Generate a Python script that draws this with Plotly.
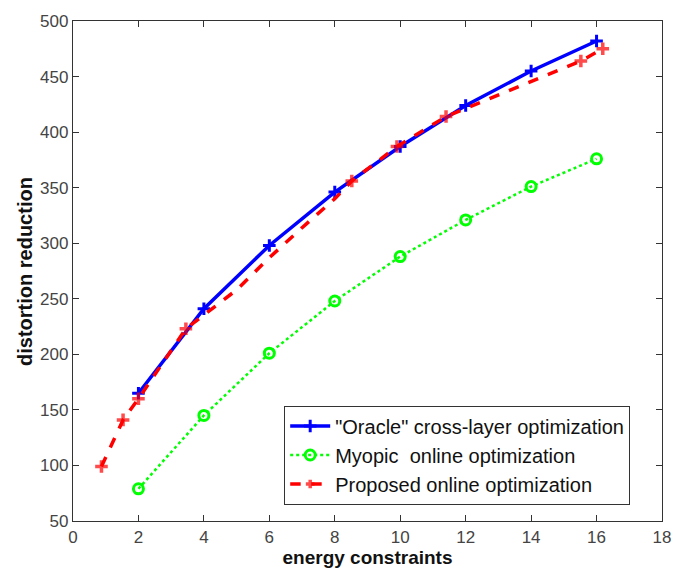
import plotly.graph_objects as go

# Oracle cross-layer optimization
oracle_x = [2, 4, 6, 8, 10, 12, 14, 16]
oracle_y = [165, 241, 298, 346, 387, 424, 455, 482]

# Myopic online optimization
myopic_x = [2, 4, 6, 8, 10, 12, 14, 16]
myopic_y = [79, 145, 201, 248, 288, 321, 351, 376]

# Proposed online optimization (marker shown only where visible in reference)
proposed_x = [0.87, 1.53, 2.0, 3.45, 5.0, 6.0, 7.0, 8.0, 8.52, 9.9, 11.4, 15.52, 16.19]
proposed_y = [99, 141, 160, 223, 258, 287, 314, 340, 356, 387, 414, 464, 475]
proposed_marker_visible = [1, 1, 1, 1, 0, 0, 0, 0, 1, 1, 1, 1, 1]

x_ticks = [0, 2, 4, 6, 8, 10, 12, 14, 16, 18]
y_ticks = [50, 100, 150, 200, 250, 300, 350, 400, 450, 500]

fig = go.Figure()
fig.add_trace(go.Scatter(
    x=oracle_x, y=oracle_y, mode="lines+markers",
    name='"Oracle" cross-layer optimization',
    line=dict(color="#0000FF", width=3.5),
    marker=dict(symbol="cross-thin", size=9, line=dict(color="#0000FF", width=3)),
))
fig.add_trace(go.Scatter(
    x=myopic_x, y=myopic_y, mode="lines+markers",
    name="Myopic  online optimization",
    line=dict(color="#00FF00", width=2.5, dash="dot"),
    marker=dict(symbol="circle-open", size=10, line=dict(color="#00E000", width=3)),
))
fig.add_trace(go.Scatter(
    x=proposed_x, y=proposed_y, mode="lines+markers",
    name="Proposed online optimization",
    line=dict(color="#FF0000", width=3.5, dash="dash"),
    marker=dict(symbol="cross-thin",
                size=[9 * v for v in proposed_marker_visible],
                line=dict(color="#FF0000", width=3.5)),
))

axis_common = dict(
    showgrid=False, zeroline=False, showline=True, linecolor="#333333", linewidth=1.3,
    mirror="ticks", ticks="inside", ticklen=6, tickcolor="#333333",
    tickfont=dict(family="Liberation Sans, Arial", size=17, color="#444444"),
)
fig.update_xaxes(range=[0, 18], tickvals=x_ticks,
                 title=dict(text="<b>energy constraints</b>", standoff=2,
                            font=dict(family="Liberation Sans, Arial", size=19, color="#111111")),
                 **axis_common)
fig.update_yaxes(range=[50, 500], tickvals=y_ticks, **axis_common)

fig.add_annotation(
    text="<b>distortion reduction</b>", textangle=-90, showarrow=False,
    xref="paper", yref="paper", x=-0.0815, y=0.5, xanchor="center", yanchor="middle",
    font=dict(family="Liberation Sans, Arial", size=20, color="#111111"),
)

fig.update_layout(
    width=684, height=574,
    margin=dict(l=73, r=22, t=12, b=50),
    plot_bgcolor="white", paper_bgcolor="white",
    showlegend=True,
    legend=dict(x=0.946, y=0.033, xanchor="right", yanchor="bottom",
                bgcolor="white", bordercolor="#333333", borderwidth=1,
                font=dict(family="Liberation Sans, Arial", size=20, color="#111111"),
                tracegroupgap=0, itemwidth=40),
)

fig.write_html("out.html")
